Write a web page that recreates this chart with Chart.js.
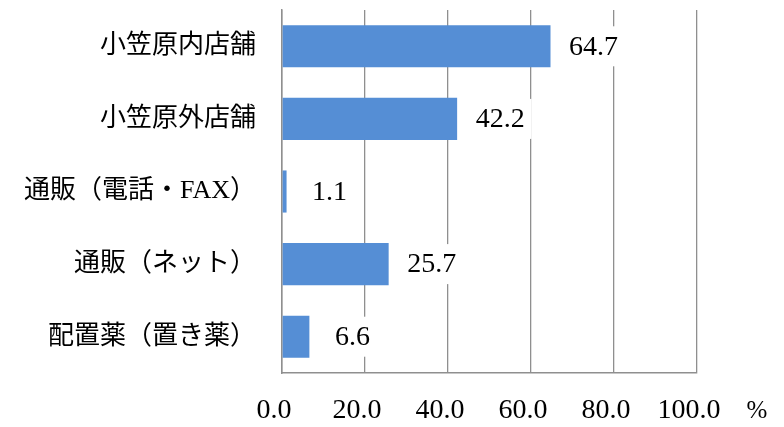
<!DOCTYPE html>
<html>
<head>
<meta charset="utf-8">
<script src="https://cdn.jsdelivr.net/npm/chart.js@4"></script>
<style>
  body { margin: 0; background: #fff; }
  #wrap { width: 784px; height: 427px; position: relative; }
</style>
</head>
<body>
<div id="wrap"><canvas id="chart"></canvas></div>
<script>
const categories = ["小笠原内店舗", "小笠原外店舗", "通販（電話・FAX）", "通販（ネット）", "配置薬（置き薬）"];
const values = [64.7, 42.2, 1.1, 25.7, 6.6];
const axisMin = 0;
const axisMax = 100;
const axisStep = 20;
const unitLabel = "%";

// value labels with a white box, plus the unit mark at the end of the x axis
const valueLabels = {
  id: "valueLabels",
  afterDatasetsDraw(chart) {
    const ctx = chart.ctx;
    const meta = chart.getDatasetMeta(0);
    ctx.save();
    ctx.font = '28px "Liberation Serif"';
    ctx.textAlign = "center";
    ctx.textBaseline = "middle";
    meta.data.forEach((bar, i) => {
      const txt = values[i].toFixed(1);
      const cx = bar.x + 43;
      const w = ctx.measureText(txt).width + 14;
      ctx.fillStyle = "#ffffff";
      ctx.fillRect(cx - w / 2, bar.y - 20, w, 40);
      ctx.fillStyle = "#000000";
      ctx.fillText(txt, cx, bar.y + 1);
    });
    ctx.font = '25px "Liberation Serif"';
    ctx.fillText(unitLabel, chart.chartArea.right + 60, chart.chartArea.bottom + 38);
    ctx.restore();
  }
};

new Chart(document.getElementById("chart"), {
  type: "bar",
  data: {
    labels: categories,
    datasets: [{
      data: values,
      backgroundColor: "#558ED5",
      borderWidth: 0,
      categoryPercentage: 1,
      barPercentage: 0.58
    }]
  },
  options: {
    indexAxis: "y",
    responsive: true,
    maintainAspectRatio: false,
    animation: false,
    layout: { padding: { top: 10, right: 87, bottom: 0, left: 0 } },
    plugins: {
      legend: { display: false },
      tooltip: { enabled: false }
    },
    scales: {
      x: {
        min: axisMin,
        max: axisMax,
        grid: { color: "#8f8f8f", lineWidth: 1.3, drawTicks: false },
        border: { color: "#8f8f8f", width: 1.5 },
        ticks: {
          stepSize: axisStep,
          padding: 21,
          labelOffset: -8,
          color: "#000000",
          font: { family: '"Liberation Serif"', size: 28 },
          callback: v => v.toFixed(1)
        },
        afterFit: s => { s.height = 54; s.paddingLeft = 0; s.paddingRight = 0; }
      },
      y: {
        grid: { display: false, drawTicks: false },
        border: { color: "#8f8f8f", width: 1.5 },
        ticks: {
          padding: 26,
          color: "#000000",
          font: { family: '"Liberation Serif", "Noto Sans CJK JP"', size: 26 }
        },
        afterFit: s => { s.width = 282; s.paddingTop = 0; s.paddingBottom = 0; }
      }
    }
  },
  plugins: [valueLabels]
});
</script>
</body>
</html>
